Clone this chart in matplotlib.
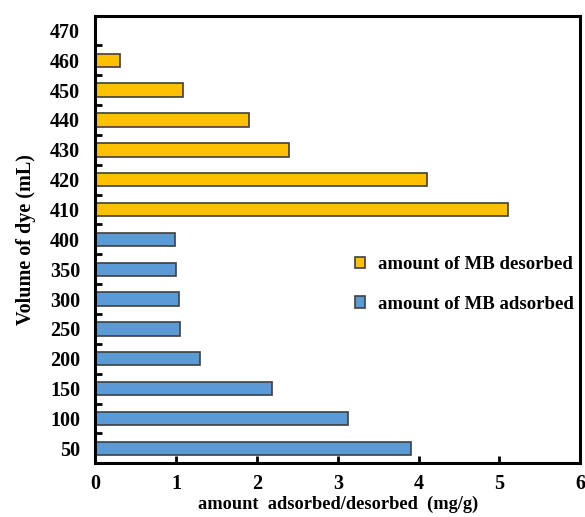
import numpy as np
import matplotlib.pyplot as plt

plt.rcParams['font.family'] = ['Liberation Serif', 'DejaVu Serif']
plt.rcParams['font.weight'] = 'bold'

# volumes on the category axis (470 is only a label)
volumes = ['50', '100', '150', '200', '250', '300', '350', '400',
           '410', '420', '430', '440', '450', '460', '470']
adsorbed = [3.91, 3.13, 2.19, 1.29, 1.05, 1.03, 1.00, 0.98]
desorbed = [5.11, 4.10, 2.40, 1.90, 1.09, 0.31]

pos = np.arange(len(volumes))
pos_ads = pos[:len(adsorbed)]
pos_des = pos[len(adsorbed):len(adsorbed) + len(desorbed)]

fig = plt.figure(figsize=(5.85, 5.17), dpi=100)
ax = fig.add_axes([0.163, 0.104, 0.829, 0.866])

ax.barh(pos_des, desorbed, height=0.45, color='#FFC000',
        edgecolor='#404040', linewidth=1.2, label='amount of MB desorbed')
ax.barh(pos_ads, adsorbed, height=0.45, color='#5B9BD5',
        edgecolor='#404040', linewidth=1.2, label='amount of MB adsorbed')

ax.set_xlim(0, 6)
ax.set_ylim(-0.5, len(volumes) - 0.5)
ax.set_xticks(range(7))
ax.set_yticks(pos)
ax.set_yticklabels(volumes)
# tick marks sit between the categories
ax.set_yticks(pos[:-1] + 0.5, minor=True)
ax.tick_params(axis='y', which='major', length=0, labelsize=14.5, pad=11)
ax.tick_params(axis='y', which='minor', direction='in', length=5, width=2)
ax.tick_params(axis='x', direction='in', length=5, width=2, labelsize=14.5, pad=8)

for s in ax.spines.values():
    s.set_linewidth(2.2)

ax.set_xlabel('amount  adsorbed/desorbed  (mg/g)', fontsize=13.2,
              fontweight='bold', labelpad=1)
ax.set_ylabel('Volume of dye (mL)', fontsize=14.5, fontweight='bold', labelpad=10)

ax.legend(loc='upper left', bbox_to_anchor=(0.5, 0.5), frameon=False,
          fontsize=13.5, handlelength=0.55, handleheight=0.55,
          labelspacing=1.2, handletextpad=0.7)

fig.savefig('out.png', dpi=100)
